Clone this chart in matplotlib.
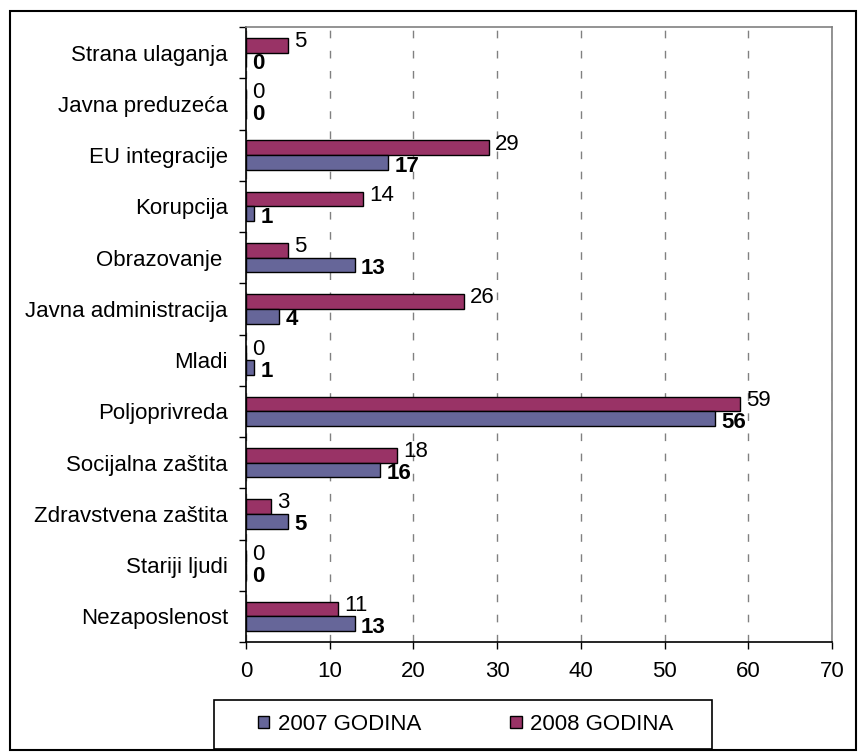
import numpy as np
import matplotlib
matplotlib.use("Agg")
import matplotlib.pyplot as plt
from matplotlib.patches import Patch, Rectangle

plt.rcParams['font.family'] = ['Liberation Sans', 'DejaVu Sans']

# categories listed top to bottom as in the chart
categories = ['Strana ulaganja', 'Javna preduzeća', 'EU integracije', 'Korupcija',
              'Obrazovanje ', 'Javna administracija', 'Mladi', 'Poljoprivreda',
              'Socijalna zaštita', 'Zdravstvena zaštita', 'Stariji ljudi', 'Nezaposlenost']
vals_2007 = [0, 0, 17, 1, 13, 4, 1, 56, 16, 5, 0, 13]
vals_2008 = [5, 0, 29, 14, 5, 26, 0, 59, 18, 3, 0, 11]
x_ticks = [0, 10, 20, 30, 40, 50, 60, 70]

c2007 = '#666699'
c2008 = '#993366'
fs = 16

n = len(categories)
y = np.arange(n)[::-1]  # first category at top
h = 0.29

fig = plt.figure(figsize=(8.58, 7.52), dpi=100)
ax = fig.add_axes([246/858, 1-642/752, (832-246)/858, (642-27)/752])

ax.barh(y + h/2, vals_2008, height=h, color=c2008, edgecolor='black', linewidth=1, zorder=3)
ax.barh(y - h/2, vals_2007, height=h, color=c2007, edgecolor='black', linewidth=1, zorder=3)

for yi, v in zip(y, vals_2008):
    ax.annotate(str(v), (v, yi + h/2), xytext=(4.5, 2.5), textcoords='offset points',
                ha='left', va='center', fontsize=fs, zorder=4)
for yi, v in zip(y, vals_2007):
    ax.annotate(str(v), (v, yi - h/2), xytext=(4.5, -2.5), textcoords='offset points',
                ha='left', va='center', fontsize=fs, fontweight='bold', zorder=4)

ax.set_xlim(0, 70)
ax.set_ylim(-0.5, n - 0.5)
ax.set_xticks(x_ticks)
ax.tick_params(axis='x', direction='out', length=5, width=1, labelsize=fs, pad=9)

ax.set_yticks(y)
ax.set_yticklabels(categories)
ax.tick_params(axis='y', which='major', length=0, labelsize=fs, pad=13)
ax.set_yticks(np.arange(n + 1) - 0.5, minor=True)
ax.tick_params(axis='y', which='minor', direction='out', length=5, width=1)

ax.grid(axis='x', color='#808080', linestyle=(0, (5.5, 9)), linewidth=1, zorder=0)
ax.set_axisbelow(True)
for s in ['top', 'right']:
    ax.spines[s].set_color('#808080')
    ax.spines[s].set_linewidth(1.2)
for s in ['left', 'bottom']:
    ax.spines[s].set_color('black')
    ax.spines[s].set_linewidth(1.2)

handles = [Patch(facecolor=c2007, edgecolor='black', linewidth=1),
           Patch(facecolor=c2008, edgecolor='black', linewidth=1)]
fig.legend(handles, ['2007 GODINA', '2008 GODINA'], ncol=2, loc='center',
           bbox_to_anchor=(466/858, 1-724.5/752), fontsize=fs,
           handlelength=0.5, handleheight=0.5, handletextpad=0.4,
           columnspacing=4.0, borderpad=0, borderaxespad=0, frameon=False)

# legend frame
fig.patches.append(Rectangle((214/858, 1-749/752), 498/858, 49/752, transform=fig.transFigure,
                             fill=False, edgecolor='black', linewidth=1.2))
# outer chart border
fig.patches.append(Rectangle((10/858, 1-750/752), 846/858, 739/752, transform=fig.transFigure,
                             fill=False, edgecolor='black', linewidth=1.5))

fig.savefig('out.png', dpi=100)
